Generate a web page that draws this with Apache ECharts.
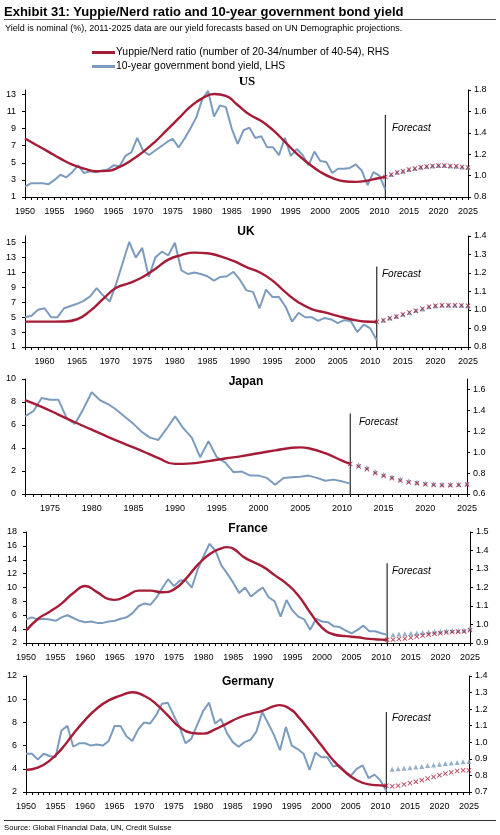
<!DOCTYPE html>
<html><head><meta charset="utf-8">
<script src="https://cdn.jsdelivr.net/npm/echarts@6/dist/echarts.min.js"></script>
<style>html,body{margin:0;padding:0;background:#fff}#c{width:500px;height:835px}</style>
</head><body><div id="c"></div>
<script>
// ---------- DATA ----------
const forecastYears = [2011,2012,2013,2014,2015,2016,2017,2018,2019,2020,2021,2022,2023,2024,2025];
const forecastYieldYears = [2012,2013,2014,2015,2016,2017,2018,2019,2020,2021,2022,2023,2024,2025];

// US
const usYieldStart = 1950;
const usYield = [2.2,2.6,2.6,2.6,2.5,3.0,3.6,3.3,3.9,4.7, 3.8,4.0,3.9,4.1,4.2,4.7,4.6,5.8,6.2,7.9,
  6.4,5.9,6.4,6.9,7.4,7.8,6.8,7.8,9.0,10.3, 12.4,13.4,10.4,11.7,11.5,9.0,7.2,8.8,9.1,7.9,
  8.1,6.8,6.8,5.9,7.9,5.8,6.6,5.9,4.7,6.3, 5.2,5.1,3.8,4.3,4.3,4.4,4.8,4.1,2.4,3.9, 3.5,1.9];
const usRatioYears = [1950,1952,1954,1956,1958,1960,1962,1964,1966,1968,1970,1972,1974,1976,1978,1980,1982,1984,1986,1988,1990,1992,1994,1996,1998,2000,2002,2004,2006,2008,2010,2011];
const usRatio = [1.347,1.284,1.222,1.159,1.103,1.066,1.041,1.044,1.081,1.144,1.222,1.316,1.425,1.534,1.644,1.722,1.762,1.745,1.66,1.57,1.51,1.425,1.316,1.206,1.113,1.034,0.978,0.947,0.941,0.953,0.978,0.988];
const usRatioFc = [0.988,1.01,1.03,1.04,1.056,1.066,1.078,1.084,1.09,1.094,1.094,1.09,1.088,1.081,1.075];
const usYieldFc = [3.63,3.88,4.0,4.2,4.33,4.48,4.55,4.63,4.68,4.68,4.63,4.6,4.51,4.44];

// UK
const ukYieldStart = 1957;
const ukYield = [5.0,5.2,6.0, 6.2,5.0,5.0,6.2,6.5,6.8,7.2,7.8,8.9,7.9,
  7.1,9.5,12.3,15.1,13.0,14.3,10.4,13.0,13.8,13.3, 15.0,11.3,10.8,11.0,10.8,10.5,9.9,10.4,10.5,11.1,
  10.0,8.6,8.4,6.2,8.7,7.7,7.7,6.4,4.4,5.6, 5.0,5.0,4.5,4.9,4.7,4.2,4.6,4.5,3.0,4.0, 3.5,1.9];
const ukRatioYears = [1957,1960,1963,1965,1967,1969,1971,1973,1975,1977,1979,1981,1983,1985,1987,1989,1991,1993,1995,1997,1999,2001,2003,2005,2007,2009,2011];
const ukRatio = [0.937,0.937,0.938,0.95,0.995,1.06,1.12,1.145,1.177,1.222,1.272,1.297,1.31,1.307,1.29,1.265,1.232,1.204,1.159,1.095,1.041,1.005,0.987,0.968,0.95,0.938,0.936];
const ukRatioFc = [0.936,0.945,0.956,0.965,0.976,0.987,0.996,1.007,1.017,1.023,1.026,1.026,1.026,1.025,1.023];
const ukYieldFc = [4.6,4.9,5.1,5.4,5.6,5.9,6.1,6.4,6.5,6.6,6.6,6.6,6.6,6.5];

// Japan
const jpYieldStart = 1972;
const jpYield = [6.75,7.2,8.35,8.2,8.2,6.6,6.1,7.4, 8.85,8.15,7.8,7.3,6.7,6.1,5.4,4.9,4.7,5.7,
  6.75,5.7,4.9,3.2,4.6,3.2,2.75,1.9,1.95,1.6, 1.6,1.4,0.8,1.4,1.45,1.5,1.6,1.4,1.15,1.25, 1.1,0.9];
const jpRatioYears = [1972,1974,1976,1978,1980,1982,1984,1986,1988,1990,1992,1994,1996,1998,2000,2002,2004,2005,2006,2008,2010,2011];
const jpRatio = [1.497,1.433,1.36,1.286,1.215,1.145,1.078,1.013,0.943,0.888,0.893,0.915,0.94,0.962,0.99,1.017,1.042,1.046,1.038,0.99,0.92,0.888];
const jpRatioFc = [0.888,0.863,0.837,0.799,0.773,0.751,0.728,0.712,0.703,0.693,0.687,0.683,0.683,0.687,0.69];
const jpYieldFc = [2.55,2.3,1.95,1.7,1.5,1.3,1.15,1.05,0.95,0.9,0.85,0.85,0.85,0.9];

// France
const frYieldStart = 1950;
const frYield = [5.4,5.7,5.4,5.5,5.4,5.2,5.7,6.0,5.6,5.2, 5.0,5.1,4.9,4.9,5.1,5.2,5.5,5.7,6.3,7.3,
  7.7,7.5,8.5,9.9,11.2,10.2,11.0,11.0,10.0,12.6, 14.5,16.3,15.3,13.2,12.0,10.7,9.2,10.0,8.7,9.4,
  10.0,8.6,8.0,5.8,8.2,6.7,5.8,5.4,3.9,5.5, 5.1,5.0,4.4,4.3,3.8,3.4,3.9,4.5,3.7,3.7, 3.4,3.2];
const frRatioYears = [1950,1952,1954,1956,1958,1960,1962,1964,1965,1967,1969,1971,1973,1975,1977,1979,1981,1983,1984,1985,1987,1990,1992,1994,1996,1998,2000,2002,2004,2006,2008,2010,2011];
const frRatio = [0.966,1.03,1.069,1.113,1.17,1.208,1.175,1.137,1.133,1.155,1.183,1.183,1.174,1.19,1.247,1.322,1.38,1.412,1.418,1.41,1.36,1.313,1.267,1.221,1.157,1.065,0.983,0.946,0.937,0.931,0.922,0.918,0.917];
const frRatioFc = [0.917,0.918,0.922,0.924,0.929,0.935,0.94,0.946,0.95,0.953,0.957,0.959,0.961,0.962,0.97];
const frYieldFc = [3.2,3.3,3.35,3.4,3.45,3.5,3.6,3.65,3.7,3.75,3.8,3.8,3.85,4.05];

// Germany
const deYieldStart = 1950;
const deYield = [5.3,5.3,4.8,5.3,5.1,5.0,7.3,7.7,5.9,6.2, 6.2,6.0,6.1,6.0,6.4,7.7,7.7,6.8,6.4,7.4,
  8.0,7.9,8.6,9.6,9.7,8.6,7.6,6.2,6.6,7.8, 9.0,9.7,7.9,8.3,7.1,6.3,5.9,6.3,6.5,7.2,
  8.9,7.9,6.9,5.6,7.6,6.0,5.7,5.3,3.9,5.4, 5.0,5.0,4.2,4.3,3.8,3.4,4.0,4.3,3.2,3.5, 3.0,2.1];
const deRatioYears = [1950,1952,1954,1956,1958,1960,1962,1964,1966,1968,1970,1972,1974,1976,1978,1980,1982,1984,1986,1988,1990,1992,1993,1995,1996,1998,2000,2002,2004,2006,2008,2010,2011];
const deRatio = [0.833,0.847,0.889,0.959,1.05,1.134,1.204,1.253,1.281,1.302,1.281,1.232,1.162,1.092,1.057,1.052,1.078,1.113,1.148,1.172,1.19,1.218,1.224,1.194,1.158,1.073,0.982,0.892,0.821,0.771,0.746,0.74,0.738];
const deRatioFc = [0.738,0.734,0.738,0.746,0.754,0.762,0.771,0.781,0.791,0.801,0.811,0.819,0.827,0.831,0.831];
const deYieldFc = [3.96,4.0,4.05,4.1,4.15,4.2,4.28,4.33,4.4,4.45,4.5,4.55,4.6,4.62];

// ---------- LAYOUT / STYLE ----------
const FONT = '"Liberation Sans", Arial, sans-serif';
const RED = '#A61C37', BLUE = '#7C9CBF';
const NAME_R = 'Yuppie/Nerd ratio (number of 20-34/number of 40-54), RHS';
const NAME_Y = '10-year government bond yield, LHS';
const XSYM = 'path://M0,1.3L1.3,0L5,3.7L8.7,0L10,1.3L6.3,5L10,8.7L8.7,10L5,6.3L1.3,10L0,8.7L3.7,5Z';

const panels = [
  {title:'US', tfont:'bold 13px "Liberation Serif", serif', tpos:[247,82], xMin:1950,
   ys:usYieldStart, yv:usYield, ry:usRatioYears, rv:usRatio, rfc:usRatioFc, yfc:usYieldFc,
   grid:{left:25,right:32,top:90,height:107}, L:{min:1,max:13.5,interval:2,smax:false}, R:{min:0.8,max:1.8,interval:0.2,smax:true},
   fcLine:[1,10.6], fcText:[392,128]},
  {title:'UK', tfont:'bold 12px '+FONT, tpos:[246,232], xMin:1957,
   ys:ukYieldStart, yv:ukYield, ry:ukRatioYears, rv:ukRatio, rfc:ukRatioFc, yfc:ukYieldFc,
   grid:{left:25,right:32,top:236,height:111}, L:{min:1,max:15.9,interval:2,smax:false}, R:{min:0.8,max:1.4,interval:0.1,smax:true},
   fcLine:[1,11.8], fcText:[382,274]},
  {title:'Japan', tfont:'bold 12px '+FONT, tpos:[246,382], xMin:1972,
   ys:jpYieldStart, yv:jpYield, ry:jpRatioYears, rv:jpRatio, rfc:jpRatioFc, yfc:jpYieldFc,
   grid:{left:25,right:33,top:379,height:115}, L:{min:0,max:10,interval:2,smax:true}, R:{min:0.6,max:1.7,interval:0.2,smax:false},
   fcLine:[0,7.0], fcText:[359,422]},
  {title:'France', tfont:'bold 12px '+FONT, tpos:[248,529], xMin:1950,
   ys:frYieldStart, yv:frYield, ry:frRatioYears, rv:frRatio, rfc:frRatioFc, yfc:frYieldFc,
   grid:{left:26,right:30,top:532,height:111}, L:{min:2,max:18,interval:2,smax:true}, R:{min:0.9,max:1.5,interval:0.1,smax:true},
   fcLine:[2,13.5], fcText:[392,571]},
  {title:'Germany', tfont:'bold 12px '+FONT, tpos:[248,682], xMin:1950,
   ys:deYieldStart, yv:deYield, ry:deRatioYears, rv:deRatio, rfc:deRatioFc, yfc:deYieldFc,
   grid:{left:26,right:31,top:676,height:116}, L:{min:2,max:12,interval:2,smax:true}, R:{min:0.7,max:1.4,interval:0.1,smax:true},
   fcLine:[2,8.9], fcText:[392,718]}
];

const seq = (start, vals) => vals.map((v,i) => [start+i, v]);
const zip = (xs, vals) => xs.map((x,i) => [x, vals[i]]);

const grids = [], xAxes = [], yAxes = [], series = [], graphics = [];
const axisLine = {show:true, lineStyle:{color:'#000', width:1}};
const lbl = {fontFamily:FONT, fontSize:9, color:'#000'};

panels.forEach((p, i) => {
  grids.push(Object.assign({containLabel:false}, p.grid));
  xAxes.push({type:'value', gridIndex:i, min:p.xMin, max:2025, interval:1,
    axisLine, axisTick:{show:true, length:3, lineStyle:{color:'#000'}},
    axisLabel:Object.assign({margin:10, formatter:v => (v % 5 === 0 ? String(v) : ''), showMinLabel:true, showMaxLabel:true}, lbl),
    splitLine:{show:false}});
  yAxes.push({type:'value', gridIndex:i, position:'left', min:p.L.min, max:p.L.max, interval:p.L.interval,
    axisLine, axisTick:{show:true, length:3, lineStyle:{color:'#000'}},
    axisLabel:Object.assign({margin:9, showMaxLabel:p.L.smax}, lbl), splitLine:{show:false}});
  yAxes.push({type:'value', gridIndex:i, position:'right', min:p.R.min, max:p.R.max, interval:p.R.interval,
    axisLine, axisTick:{show:true, length:3, lineStyle:{color:'#000'}},
    axisLabel:Object.assign({margin:6, showMaxLabel:p.R.smax, formatter:v => v.toFixed(1)}, lbl), splitLine:{show:false}});

  series.push({type:'line', name:NAME_Y, xAxisIndex:i, yAxisIndex:2*i, data:seq(p.ys, p.yv),
    symbol:'none', lineStyle:{color:BLUE, width:2}, itemStyle:{color:BLUE}, z:2});
  series.push({type:'line', name:NAME_R, xAxisIndex:i, yAxisIndex:2*i+1, data:zip(p.ry, p.rv),
    smooth:0.5, symbol:'none', lineStyle:{color:RED, width:2.4}, itemStyle:{color:RED}, z:3});
  series.push({type:'scatter', name:'yield forecast '+p.title, xAxisIndex:i, yAxisIndex:2*i, data:zip(forecastYieldYears, p.yfc),
    symbol:'triangle', symbolSize:5, itemStyle:{color:BLUE}, z:4});
  series.push({type:'scatter', name:'ratio forecast '+p.title, xAxisIndex:i, yAxisIndex:2*i+1, data:zip(forecastYears, p.rfc),
    symbol:XSYM, symbolSize:5, itemStyle:{color:RED}, z:5});
  series.push({type:'line', name:'fc line '+p.title, xAxisIndex:i, yAxisIndex:2*i,
    data:[[2011, p.fcLine[0]], [2011, p.fcLine[1]]], symbol:'none', lineStyle:{color:'#000', width:1}, z:1, silent:true});

  graphics.push({type:'text', x:p.tpos[0], y:p.tpos[1], style:{text:p.title, font:p.tfont, fill:'#000', align:'center', verticalAlign:'middle'}});
  graphics.push({type:'text', x:p.fcText[0], y:p.fcText[1], style:{text:'Forecast', font:'italic 10px '+FONT, fill:'#000', align:'left', verticalAlign:'middle'}});
});

graphics.push({type:'text', x:4, y:12, style:{text:'Exhibit 31: Yuppie/Nerd ratio and 10-year government bond yield', font:'bold 13px '+FONT, fill:'#000', align:'left', verticalAlign:'middle'}});
graphics.push({type:'line', shape:{x1:4, y1:19.5, x2:496, y2:19.5}, style:{stroke:'#555', lineWidth:1.2}});
graphics.push({type:'text', x:5, y:29, style:{text:'Yield is nominal (%), 2011-2025 data are our yield forecasts based on UN Demographic projections.', font:'9px '+FONT, fill:'#000', align:'left', verticalAlign:'middle'}});
graphics.push({type:'line', shape:{x1:4, y1:820.5, x2:496, y2:820.5}, style:{stroke:'#333', lineWidth:1}});
graphics.push({type:'text', x:4, y:828, style:{text:'Source: Global Financial Data, UN, Credit Suisse', font:'7.7px '+FONT, fill:'#000', align:'left', verticalAlign:'middle'}});

const chart = echarts.init(document.getElementById('c'), null, {renderer:'canvas'});
chart.setOption({
  animation:false,
  backgroundColor:'#fff',
  grid:grids, xAxis:xAxes, yAxis:yAxes, series,
  legend:{data:[{name:NAME_R, icon:'rect'}, {name:NAME_Y, icon:'rect'}], orient:'vertical', left:92, top:47, padding:0,
    itemWidth:23, itemHeight:3, itemGap:3, selectedMode:false,
    textStyle:{fontFamily:FONT, fontSize:10.4, color:'#000', lineHeight:11, padding:[0,0,0,-4]}},
  graphic:graphics
});
</script></body></html>
